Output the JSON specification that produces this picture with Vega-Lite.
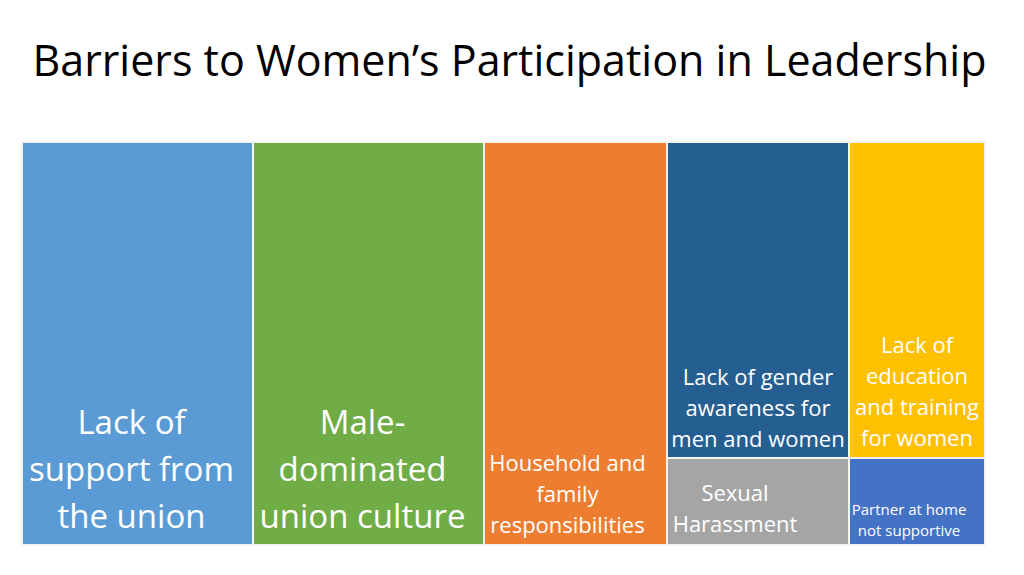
{
  "$schema": "https://vega.github.io/schema/vega-lite/v6.json",
  "autosize": "none",
  "width": 963,
  "height": 403,
  "padding": {"left": 22, "top": 142, "right": 39, "bottom": 30},
  "background": "white",
  "title": {
    "text": "Barriers to Women’s Participation in Leadership",
    "font": "Open Sans",
    "fontSize": 43,
    "fontWeight": "normal",
    "color": "#000000",
    "anchor": "middle",
    "baseline": "alphabetic",
    "offset": 22,
    "dx": 6
  },
  "data": {
    "values": [
      {"barrier": "Lack of support from the union", "label": "Lack of\nsupport from\nthe union", "tier": "large", "x0": 0, "x1": 231, "y0": 0, "y1": 403},
      {"barrier": "Male-dominated union culture", "label": "Male-\ndominated\nunion culture", "tier": "large", "x0": 231, "x1": 462, "y0": 0, "y1": 403},
      {"barrier": "Household and family responsibilities", "label": "Household and\nfamily\nresponsibilities", "tier": "medium3", "x0": 462, "x1": 645, "y0": 0, "y1": 403},
      {"barrier": "Lack of gender awareness for men and women", "label": "Lack of gender\nawareness for\nmen and women", "tier": "medium", "x0": 645, "x1": 827, "y0": 0, "y1": 316},
      {"barrier": "Lack of education and training for women", "label": "Lack of\neducation\nand training\nfor women", "tier": "medium4", "x0": 827, "x1": 963, "y0": 0, "y1": 316},
      {"barrier": "Sexual Harassment", "label": "Sexual\nHarassment", "tier": "shifted", "x0": 645, "x1": 827, "y0": 316, "y1": 403},
      {"barrier": "Partner at home not supportive", "label": "Partner at home\nnot supportive", "tier": "small", "x0": 827, "x1": 963, "y0": 316, "y1": 403}
    ]
  },
  "transform": [{"calculate": "(datum.x0 + datum.x1) / 2", "as": "mx"}],
  "encoding": {
    "x": {"field": "x0", "type": "quantitative", "scale": {"domain": [0, 963], "nice": false, "zero": false}, "axis": null},
    "y": {"field": "y0", "type": "quantitative", "scale": {"domain": [0, 403], "nice": false, "reverse": true}, "axis": null}
  },
  "layer": [
    {
      "mark": {"type": "rect", "stroke": "#f4f4f4", "strokeWidth": 2},
      "encoding": {
        "x2": {"field": "x1"},
        "y2": {"field": "y1"},
        "color": {
          "field": "barrier",
          "type": "nominal",
          "legend": null,
          "scale": {
            "domain": ["Lack of support from the union", "Male-dominated union culture", "Household and family responsibilities", "Lack of gender awareness for men and women", "Lack of education and training for women", "Sexual Harassment", "Partner at home not supportive"],
            "range": ["#5B9BD5", "#70AD47", "#ED7D31", "#255E91", "#FFC000", "#A5A5A5", "#4472C4"]
          }
        }
      }
    },
    {
      "transform": [{"filter": "datum.tier == 'large'"}],
      "mark": {"type": "text", "font": "Open Sans", "fontSize": 33, "color": "white", "baseline": "middle", "align": "center", "lineBreak": "\n", "lineHeight": 47, "dy": -121, "dx": -6},
      "encoding": {
        "x": {"field": "mx", "type": "quantitative"},
        "y": {"field": "y1", "type": "quantitative"},
        "text": {"field": "label"}
      }
    },
    {
      "transform": [{"filter": "datum.tier == 'medium3'"}],
      "mark": {"type": "text", "font": "Open Sans", "fontSize": 22, "color": "white", "baseline": "middle", "align": "center", "lineBreak": "\n", "lineHeight": 31, "dy": -81, "dx": -8},
      "encoding": {
        "x": {"field": "mx", "type": "quantitative"},
        "y": {"field": "y1", "type": "quantitative"},
        "text": {"field": "label"}
      }
    },
    {
      "transform": [{"filter": "datum.tier == 'medium'"}],
      "mark": {"type": "text", "font": "Open Sans", "fontSize": 22, "color": "white", "baseline": "middle", "align": "center", "lineBreak": "\n", "lineHeight": 31, "dy": -80, "dx": 0},
      "encoding": {
        "x": {"field": "mx", "type": "quantitative"},
        "y": {"field": "y1", "type": "quantitative"},
        "text": {"field": "label"}
      }
    },
    {
      "transform": [{"filter": "datum.tier == 'medium4'"}],
      "mark": {"type": "text", "font": "Open Sans", "fontSize": 22, "color": "white", "baseline": "middle", "align": "center", "lineBreak": "\n", "lineHeight": 31, "dy": -112},
      "encoding": {
        "x": {"field": "mx", "type": "quantitative"},
        "y": {"field": "y1", "type": "quantitative"},
        "text": {"field": "label"}
      }
    },
    {
      "transform": [{"filter": "datum.tier == 'shifted'"}],
      "mark": {"type": "text", "font": "Open Sans", "fontSize": 22, "color": "white", "baseline": "middle", "align": "center", "lineBreak": "\n", "lineHeight": 31, "dy": -51, "dx": -23},
      "encoding": {
        "x": {"field": "mx", "type": "quantitative"},
        "y": {"field": "y1", "type": "quantitative"},
        "text": {"field": "label"}
      }
    },
    {
      "transform": [{"filter": "datum.tier == 'small'"}],
      "mark": {"type": "text", "font": "Open Sans", "fontSize": 15, "color": "white", "baseline": "middle", "align": "center", "lineBreak": "\n", "lineHeight": 21, "dy": -35, "dx": -8},
      "encoding": {
        "x": {"field": "mx", "type": "quantitative"},
        "y": {"field": "y1", "type": "quantitative"},
        "text": {"field": "label"}
      }
    }
  ]
}
